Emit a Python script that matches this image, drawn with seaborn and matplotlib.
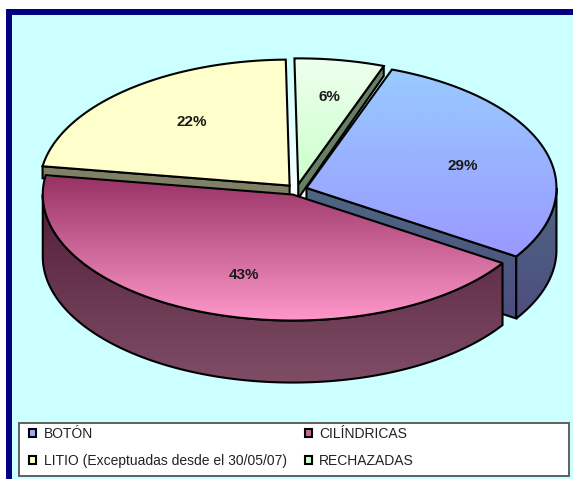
import matplotlib
matplotlib.use('Agg')
import matplotlib.pyplot as plt
from matplotlib.patches import Patch, Polygon, Rectangle
import numpy as np
import seaborn as sns

categories = ['BOTÓN', 'CILÍNDRICAS', 'LITIO (Exceptuadas desde el 30/05/07)', 'RECHAZADAS']
values = [28.6, 43.3, 22.3, 5.8]
legend_colors = ['#99AAFF', '#CC6699', '#FFFFCC', '#CCFFCC']

sns.set_style('white')
plt.rcParams['font.family'] = ['Liberation Sans', 'DejaVu Sans']

W, H = 573, 479
RX, RY = 250, 126
DEPTH = 62
CX, CY = 296.5, 189.6
EXPLODE = 0.042
FIRST_ANGLE = 20
label_nudge = [(2, 4), (9, 4), (9, -2), (4, -7)]

fig = plt.figure(figsize=(W / 100, H / 100), dpi=100)
ax = fig.add_axes([0, 0, 1, 1])
ax.set_xlim(0, W)
ax.set_ylim(H, 0)
ax.axis('off')


def arc(cen, a0, a1, dy=0):
    t = np.radians(np.linspace(a0, a1, 120))
    return np.column_stack([cen[0] + RX * np.sin(t), cen[1] - RY * np.cos(t) + dy])


def gradient_poly(pts, top, bottom, y0, y1, z):
    # vertical gradient clipped to the polygon, black outline on top
    cmap = sns.blend_palette([top, bottom], n_colors=128, as_cmap=True)
    im = ax.imshow(np.linspace(0, 1, 256).reshape(-1, 1), cmap=cmap, aspect='auto', origin='upper',
                   extent=[0, W, y1, y0], zorder=z)
    clip = Polygon(pts, closed=True, transform=ax.transData, fill=False, edgecolor='none')
    ax.add_patch(clip)
    im.set_clip_path(clip)
    ax.add_patch(Polygon(pts, closed=True, fill=False, edgecolor='black', lw=1.5, zorder=z + 0.1,
                         joinstyle='miter'))


# background and frame
ax.add_patch(Rectangle((9, 12), W + 20, H + 20, facecolor='#CCFFFF', edgecolor='#000080', lw=4.3, zorder=0))

# slice geometry from the values
sweeps = np.array(values) / sum(values) * 360
starts = FIRST_ANGLE + np.concatenate([[0], np.cumsum(sweeps)[:-1]])
ends = starts + sweeps
mids = np.radians((starts + ends) / 2)
centers = [(CX + EXPLODE * RX * np.sin(m), CY - EXPLODE * RY * np.cos(m)) for m in mids]
blue, pink, yellow, green = range(4)

# light showing through the gaps between the slices
cmap = sns.blend_palette(['#CCFFFF', '#FFFFFF'], n_colors=64, as_cmap=True)
im = ax.imshow(np.linspace(0, 1, 128).reshape(-1, 1), cmap=cmap, aspect='auto', origin='upper',
               extent=[0, W, 200, 60], zorder=0.5)
p = Polygon(arc((CX, CY), 0, 360), closed=True, transform=ax.transData, fill=False, edgecolor='none')
ax.add_patch(p)
im.set_clip_path(p)

# cut faces at the back
c = centers[green]
edge = arc(c, ends[green], ends[green], 0)[0]
gradient_poly(np.array([c, edge, edge + [0, 10], np.array(c) + [0, 14]]), '#668066', '#668066', 60, 200, 1)
c = centers[yellow]
edge = arc(c, starts[yellow], starts[yellow])[0]
gradient_poly(np.array([c, edge, edge + [0, 12], np.array(c) + [0, 12]]), '#808066', '#808066', 160, 200, 1)

# blue slice
c = centers[blue]
edge = arc(c, ends[blue], ends[blue])[0]
gradient_poly(np.array([c, edge, edge + [0, DEPTH], np.array(c) + [0, DEPTH]]), '#4D6680', '#4D4D80', 188, 320, 2)
side = np.vstack([arc(c, 90, ends[blue]), arc(c, ends[blue], 90, DEPTH)])
gradient_poly(side, '#4D6680', '#4D4D80', 188, 320, 2.2)
top = np.vstack([[c], arc(c, starts[blue], ends[blue])])
gradient_poly(top, '#99CCFF', '#9999FF', 62, 256, 3)

# pink slice
c = centers[pink]
side = np.vstack([arc(c, starts[pink], 270), arc(c, 270, starts[pink], DEPTH)])
gradient_poly(side, '#4D1933', '#804D66', 177, 384, 4)
top = np.vstack([[c], arc(c, starts[pink], ends[pink])])
gradient_poly(top, '#993366', '#FF99CC', 177, 322, 5)

# yellow and green tops
c = centers[yellow]
gradient_poly(np.vstack([[c], arc(c, starts[yellow], ends[yellow])]), '#FFFFCC', '#FFFFCC', 60, 190, 6)
c = centers[green]
gradient_poly(np.vstack([[c], arc(c, starts[green], ends[green])]), '#EEFFEE', '#CCFFCC', 58, 184, 6)

# value labels
for v, m, c, n in zip(values, mids, centers, label_nudge):
    ax.text(c[0] + 0.65 * RX * np.sin(m) + n[0], c[1] - 0.65 * RY * np.cos(m) + n[1], f'{v:.0f}%',
            ha='center', va='center', fontsize=11, fontweight='bold', color='#1a1a1a', zorder=10)

# legend
ax.add_patch(Rectangle((18.5, 422.5), 550, 53, facecolor='white', edgecolor='#606060', lw=1.4, zorder=7))
handles = [Patch(facecolor=col, edgecolor='black', lw=1.5) for col in legend_colors]
ordered = [handles[0], handles[2], handles[1], handles[3]]
names = [categories[0], categories[2], categories[1], categories[3]]
leg = ax.legend(ordered, names, ncol=2, frameon=False, loc='upper left', bbox_to_anchor=(29 / W, 1 - 427 / H),
                borderaxespad=0, borderpad=0, fontsize=10, handlelength=0.5, handleheight=0.5,
                handletextpad=0.55, labelspacing=0.95, columnspacing=1.3, labelcolor='#222222')
leg.set_zorder(8)

ax.set_xlim(0, W)
ax.set_ylim(H, 0)
fig.savefig('out.png', dpi=100)
